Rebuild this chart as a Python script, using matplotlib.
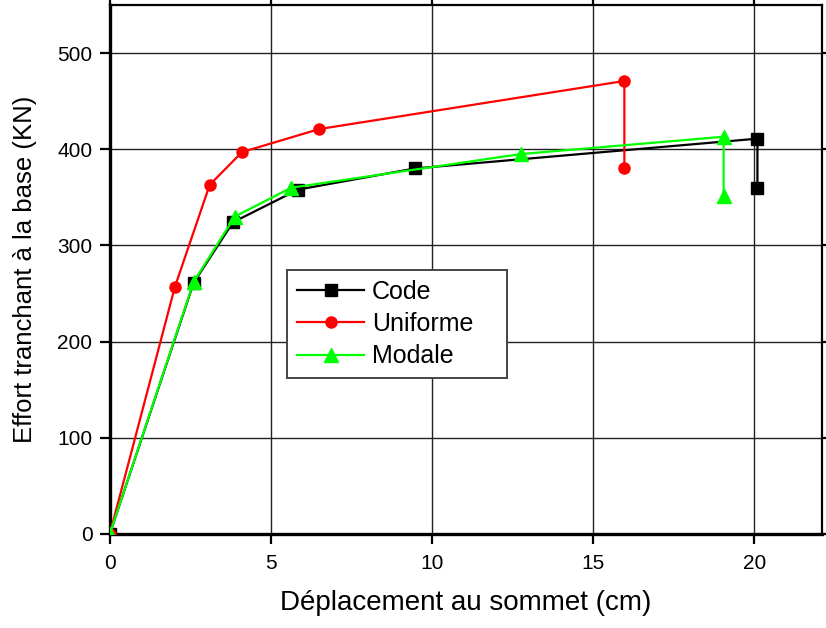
import matplotlib
matplotlib.use("Agg")
import matplotlib.pyplot as plt

plt.rcParams['font.family'] = ['Liberation Sans', 'DejaVu Sans']

# Courbes de capacité (pushover) pour trois distributions de charge
x_code = [0, 2.6, 3.82, 5.84, 9.47, 20.1, 20.1]
y_code = [0, 261, 324, 358, 380, 411, 360]

x_unif = [0, 2.02, 3.1, 4.1, 6.5, 15.97, 15.97]
y_unif = [0, 257, 363, 397, 421, 471, 380]

x_modal = [0, 2.6, 3.88, 5.63, 12.76, 19.05, 19.05]
y_modal = [0, 262, 330, 360, 395, 413, 351]

xticks = [0, 5, 10, 15, 20]
yticks = [0, 100, 200, 300, 400, 500]

fig = plt.figure(figsize=(8.26, 6.28), dpi=100)
ax = fig.add_axes([0.133, 0.150, 0.862, 0.842])

ax.plot(x_code, y_code, color='black', lw=1.6, marker='s', ms=8, label='Code', zorder=3)
ax.plot(x_unif, y_unif, color='#ff0000', lw=1.6, marker='o', ms=8, label='Uniforme', zorder=3)
ax.plot(x_modal, y_modal, color='#00ff00', lw=1.6, marker='^', ms=10.5, label='Modale', zorder=4)

ax.set_xlim(0, 22.1)
ax.set_ylim(0, 550)
ax.set_xticks(xticks)
ax.set_yticks(yticks)
ax.grid(True, color='#222222', lw=1.0)
ax.set_axisbelow(True)

for s in ['left', 'bottom']:
    ax.spines[s].set_linewidth(2.4)
for s in ['top', 'right']:
    ax.spines[s].set_linewidth(1.6)

ax.tick_params(axis='both', which='major', direction='out', length=7.5, width=1.6,
               labelsize=15, pad=5)
ax.tick_params(top=True, right=True, labeltop=False, labelright=False)
ax.xaxis.set_tick_params(which='major', pad=7)

ax.set_xlabel('Déplacement au sommet (cm)', fontsize=20, labelpad=12)
ax.set_ylabel('Effort tranchant à la base (KN)', fontsize=18.5, labelpad=15)

leg = ax.legend(loc='upper left', bbox_to_anchor=(0.2486, 0.3, 0.309, 0.199),
                mode='expand', borderaxespad=0, fontsize=18,
                fancybox=False, framealpha=1, edgecolor='#444444',
                handlelength=2.7, handletextpad=0.3, borderpad=0.4,
                labelspacing=0.33)
leg.get_frame().set_linewidth(1.4)

fig.savefig('out.png', dpi=100)
